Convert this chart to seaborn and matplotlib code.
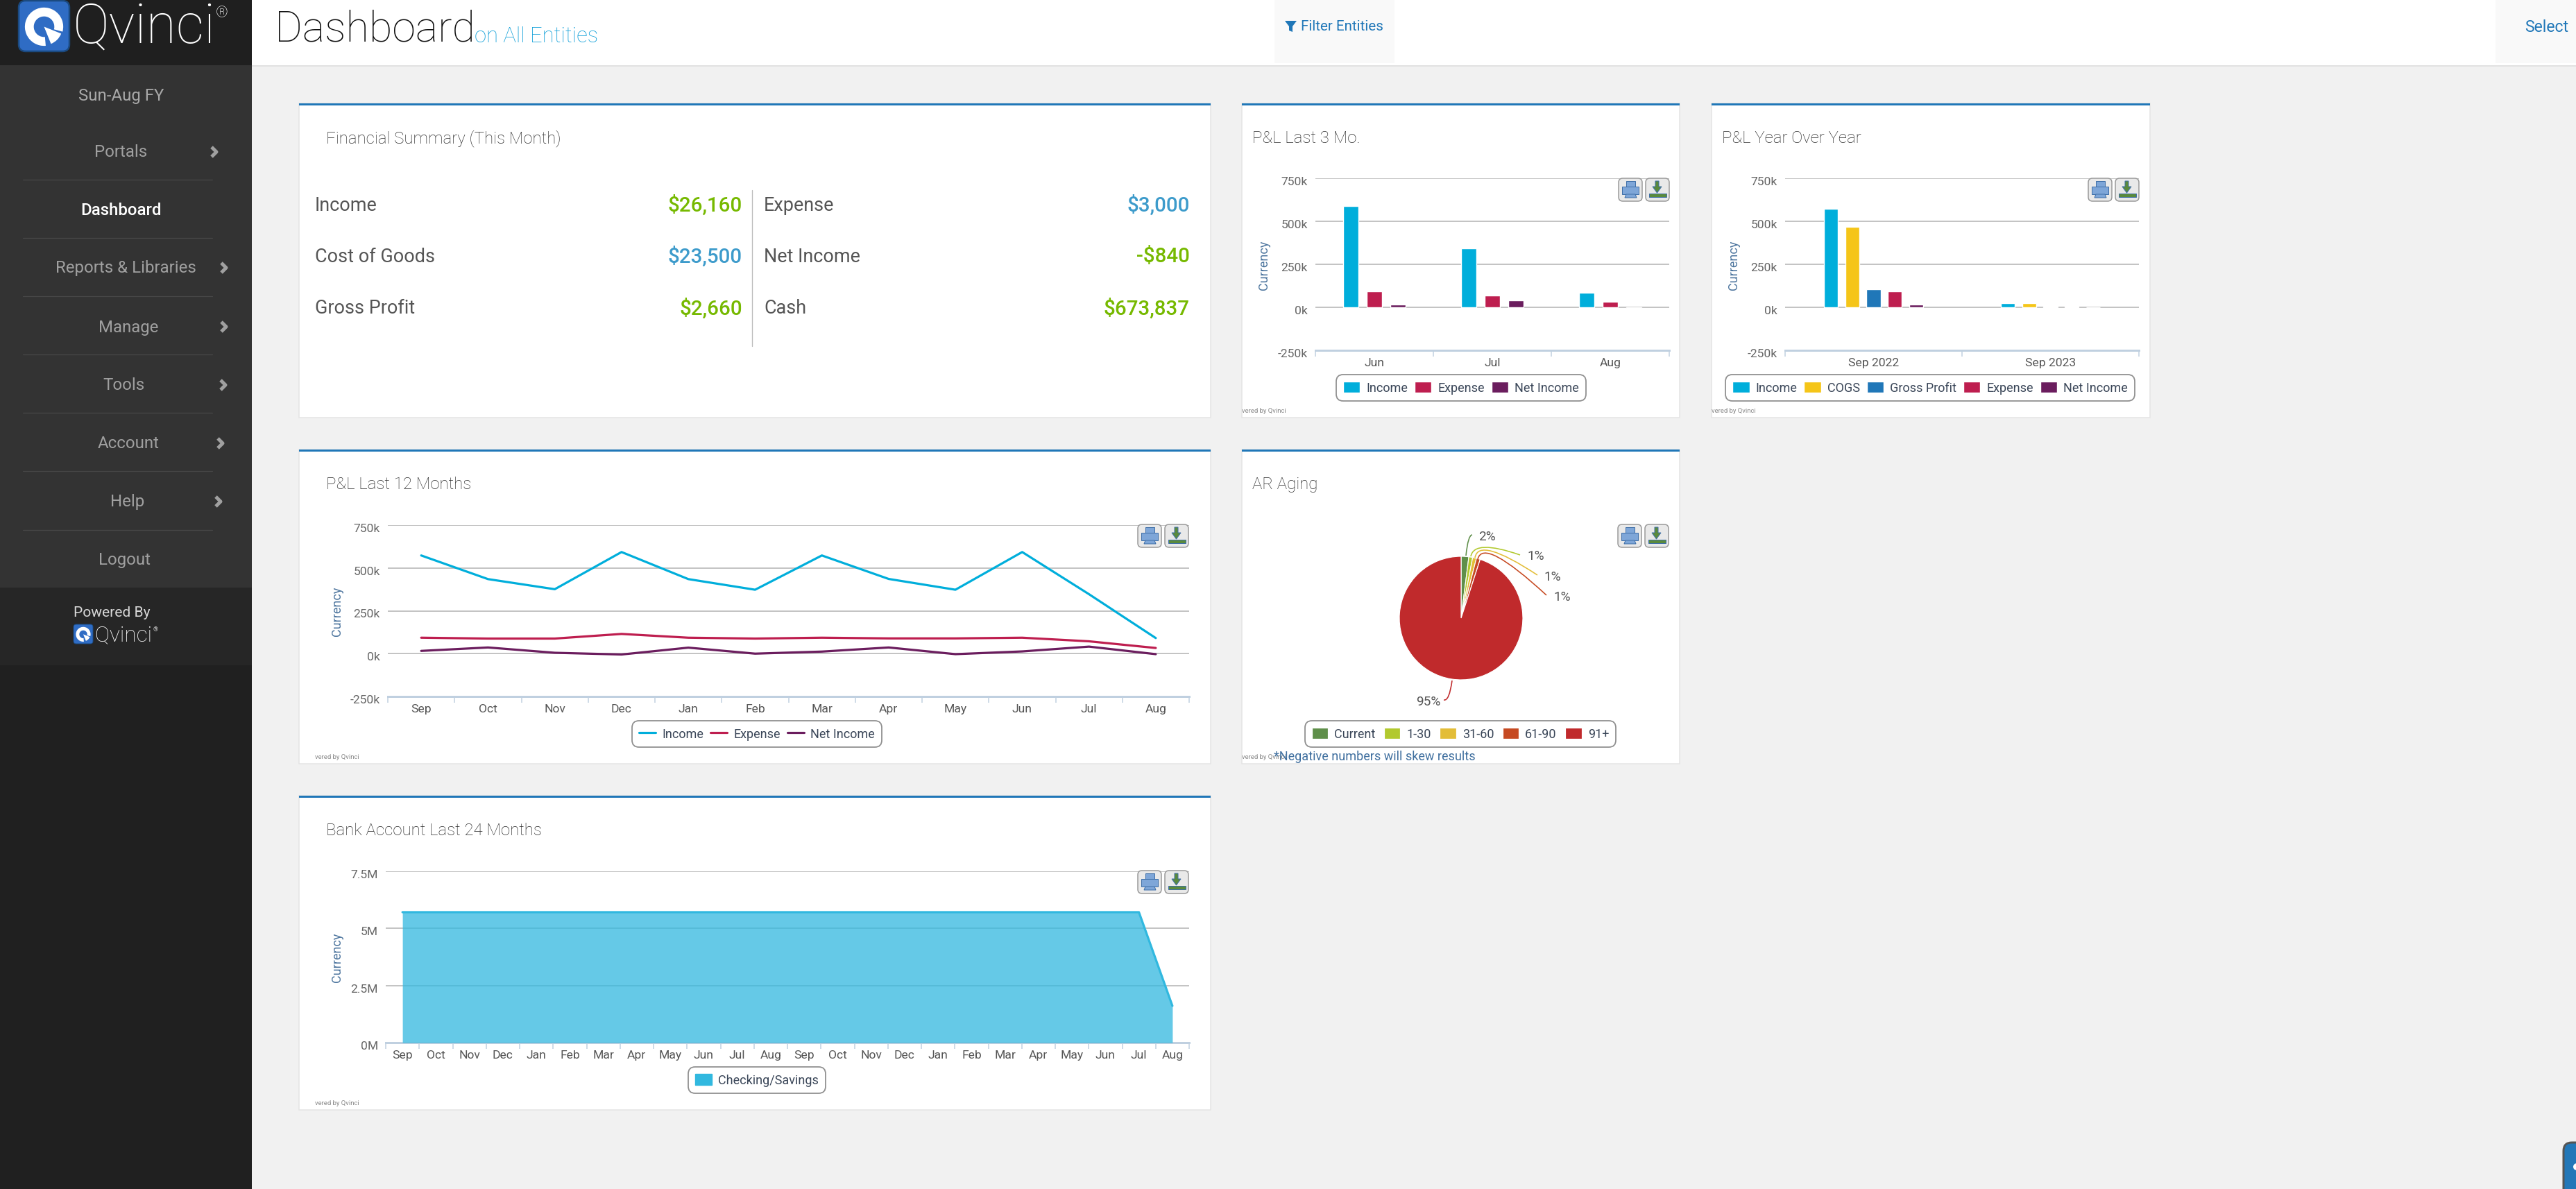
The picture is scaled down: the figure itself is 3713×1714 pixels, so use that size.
import matplotlib
matplotlib.use('Agg')
import matplotlib.pyplot as plt
from matplotlib.patches import Rectangle, FancyBboxPatch, Polygon, Wedge, Circle, PathPatch, Patch
from matplotlib.path import Path
from matplotlib.transforms import ScaledTranslation
import numpy as np
import pandas as pd
import seaborn as sns

W, H = 3713, 1715

# chart data
MONTHS_3 = ['Jun', 'Jul', 'Aug']
INCOME_3 = [590000, 343000, 85000]
EXPENSE_3 = [91000, 67000, 31000]
NET_3 = [15000, 39000, -5000]

YEARS = ['Sep 2022', 'Sep 2023']
INCOME_YOY = [571000, 26160]
COGS_YOY = [469000, 23500]
GROSS_YOY = [103000, 2660]
EXPENSE_YOY = [91000, 6000]
NET_YOY = [15000, -840]

MONTHS_12 = ['Sep', 'Oct', 'Nov', 'Dec', 'Jan', 'Feb', 'Mar', 'Apr', 'May', 'Jun', 'Jul', 'Aug']
INCOME_12 = [573000, 435000, 376000, 593000, 435000, 373000, 573000, 436000, 373000, 593000, 347000, 91000]
EXPENSE_12 = [93000, 88000, 88000, 115000, 93000, 88000, 93000, 89000, 89000, 93000, 72000, 33000]
NET_12 = [16000, 36000, 5000, -5000, 35000, 0, 12000, 36000, -3000, 13000, 41000, -3000]

AGING_LABELS = ['Current', '1-30', '31-60', '61-90', '91+']
AGING_VALUES = [2, 1, 1, 1, 95]

MONTHS_24 = MONTHS_12 + MONTHS_12
BANK_24 = [5710000, 5710000, 5710000, 5710000, 5710000, 5710000, 5710000, 5710000,
           5710000, 5710000, 5710000, 5710000, 5710000, 5710000, 5710000, 5710000,
           5710000, 5710000, 5710000, 5710000, 5710000, 5710000, 5710000, 1610000]

SUMMARY_LEFT = [('Income', '$26,160', 'g'), ('Cost of Goods', '$23,500', 'b'), ('Gross Profit', '$2,660', 'g')]
SUMMARY_RIGHT = [('Expense', '$3,000', 'b'), ('Net Income', '-$840', 'g'), ('Cash', '$673,837', 'g')]

PL_TICKS = [-250000, 0, 250000, 500000, 750000]
PL_TICK_LABELS = ['-250k', '0k', '250k', '500k', '750k']
BANK_TICKS = [0, 2500000, 5000000, 7500000]
BANK_TICK_LABELS = ['0M', '2.5M', '5M', '7.5M']

NAV_ITEMS = ['Portals', 'Dashboard', 'Reports & Libraries', 'Manage', 'Tools', 'Account', 'Help', 'Logout']

COLORS = {'Income': '#00aedb', 'COGS': '#f5c518', 'Gross Profit': '#2077b8',
          'Expense': '#be1e4f', 'Net Income': '#6b1d5e'}
AGING_COLORS = ['#5f8f4a', '#b2c92e', '#e3bd37', '#c64a22', '#c02a2c']

sns.set_theme(style='white')
plt.rcParams['font.family'] = ['Roboto', 'DejaVu Sans']


def fs(px):
    return px * 0.72


def lw(px):
    return px * 0.72


fig = plt.figure(figsize=(W / 100, H / 100), dpi=100, facecolor='#f1f1f1')


def px_axes(x0, y0, x1, y1, z=1):
    ax = fig.add_axes([x0 / W, 1 - y1 / H, (x1 - x0) / W, (y1 - y0) / H], zorder=z)
    ax.patch.set_alpha(0)
    return ax


# page layer and top layer, both in pixel coordinates
page = px_axes(0, 0, W, H, z=0)
top = px_axes(0, 0, W, H, z=5)
for a in (page, top):
    a.set_xlim(0, W)
    a.set_ylim(H, 0)
    a.axis('off')


def rect(a, x0, y0, x1, y1, color, **kw):
    a.add_patch(Rectangle((x0, y0), x1 - x0, y1 - y0, facecolor=color, edgecolor='none', **kw))


def logo(x0, y0, size):
    k = size / 74
    page.add_patch(FancyBboxPatch((x0, y0), size, size, boxstyle=f'round,pad=0,rounding_size={10 * k}',
                                  facecolor='#2f6cc4', edgecolor='#1b4a80', linewidth=lw(2.5 * k)))
    cx, cy = x0 + 37 * k, y0 + 38 * k
    page.add_patch(Wedge((cx, cy), 28 * k, 85, 375, width=13 * k, facecolor='white', edgecolor='none'))
    page.add_patch(Wedge((cx, cy), 27 * k, 22, 68, facecolor='white', edgecolor='none'))


# sidebar
rect(page, 0, 0, 363, H, '#202020')
rect(page, 0, 0, 363, 95, '#1f1f1f')
rect(page, 0, 95, 363, 848, '#333333')
rect(page, 0, 848, 363, 960, '#262626')
logo(27, 2, 73)
page.text(105, 40, 'Qvinci', color='white', fontsize=fs(79), fontweight='light', va='center', ha='left')
page.text(320, 20, '®', color='white', fontsize=fs(22), fontweight='light', va='center', ha='center')

page.text(175, 138, 'Sun-Aug FY', color='#a8a8a8', fontsize=fs(24), ha='center', va='center')
nav_x = [174, 175, 181, 185, 178, 185, 184, 180]
nav_y = [220, 303, 387, 472, 556, 640, 724, 808]
chevron_x = [309, None, 323, 323, 322, 318, 315, None]
for name, x, y, cx in zip(NAV_ITEMS, nav_x, nav_y, chevron_x):
    page.text(x, y, name, color='white' if name == 'Dashboard' else '#a0a0a0', fontsize=fs(24),
              ha='center', va='center', fontweight='medium' if name == 'Dashboard' else 'normal')
    if cx:
        page.plot([cx - 4, cx + 3, cx - 4], [y - 7, y, y + 7], color='#a0a0a0', lw=lw(5), solid_capstyle='butt')
for y in [260, 344, 428, 512, 596, 680, 765]:
    page.plot([33, 306], [y, y], color='#484848', lw=lw(1.2))

page.text(161, 884, 'Powered By', color='#d8d8d8', fontsize=fs(21), ha='center', va='center')
logo(106, 901, 28)
page.text(137, 916, 'Qvinci', color='white', fontsize=fs(31.5), fontweight='light', ha='left', va='center')
page.text(224, 908, '®', color='#cccccc', fontsize=fs(9), ha='center', va='center')

# header
rect(page, 363, 0, W, 95, 'white')
rect(page, 363, 95, W, 97, '#e2e2e2')
page.text(396, 59, 'Dashboard', color='#111111', fontsize=fs(61), fontweight='light', va='baseline')
page.text(684, 61, 'on All Entities', color='#0e9fd8', fontsize=fs(31), fontweight='light', va='baseline')
rect(page, 1837, 0, 2010, 92, '#f9f9f9')
page.add_patch(Polygon([[1852, 31], [1869, 31], [1863, 39], [1863, 47], [1858, 45], [1858, 39]],
                       facecolor='#2077b8', edgecolor='none'))
page.text(1875, 39, 'Filter Entities', color='#2077b8', fontsize=fs(20.5), va='center')
rect(page, 3597, 0, W, 92, '#f9f9f9')
page.text(3639, 39, 'Select', color='#2077b8', fontsize=fs(23), va='center', clip_on=True)

# chat widget in the corner
page.add_patch(FancyBboxPatch((3695, 1648), 40, 80, boxstyle='round,pad=0,rounding_size=12',
                              facecolor='#2277b8', edgecolor='#555555', linewidth=lw(3)))
page.add_patch(Circle((3714, 1683), 5, facecolor='white', edgecolor='none'))


def card(x0, y0, x1, y1, title):
    page.add_patch(Rectangle((x0, y0), x1 - x0, y1 - y0, facecolor='white', edgecolor='#e4e4e4', linewidth=lw(1.5)))
    rect(page, x0, y0, x1, y0 + 3, '#2077b8')
    page.text(x0 + 39 if x1 - x0 > 1000 else x0 + 15, y0 + 50, title, color='#2a2a2a', fontsize=fs(24),
              fontweight='light', va='center')


def buttons(x, y):
    for bx, edge in ((x, '#999999'), (x + 39, '#999999')):
        top.add_patch(FancyBboxPatch((bx, y), 34, 33, boxstyle='round,pad=0,rounding_size=6',
                                     facecolor='#e9e9e9', edgecolor=edge, linewidth=lw(1.5)))
    blue, dark = '#7ea6d8', '#3f6fa8'
    top.add_patch(Rectangle((x + 11, y + 4), 13, 8, facecolor=blue, edgecolor=dark, linewidth=lw(1)))
    top.add_patch(Rectangle((x + 5, y + 12), 24, 11, facecolor=blue, edgecolor=dark, linewidth=lw(1)))
    top.add_patch(Polygon([[x + 11, y + 23], [x + 24, y + 23], [x + 26, y + 28], [x + 9, y + 28]],
                          facecolor=blue, edgecolor=dark, linewidth=lw(1)))
    d = x + 39
    top.add_patch(Polygon([[d + 14, y + 4], [d + 19, y + 4], [d + 19, y + 12], [d + 23, y + 12], [d + 16.5, y + 21],
                           [d + 10, y + 12], [d + 14, y + 12]], facecolor='#5a8a3c', edgecolor=dark, linewidth=lw(1)))
    top.add_patch(Rectangle((d + 5, y + 22), 25, 5, facecolor='#5a8a3c', edgecolor=dark, linewidth=lw(1)))


def credit(x, y):
    page.text(x, y, 'vered by Qvinci', color='#888888', fontsize=fs(9.5), va='center')


def style_axes(ax, labels, ticks, tick_labels, ylab_x):
    n = len(labels)
    ax.set_xlim(-0.5, n - 0.5)
    ax.set_ylim(ticks[0], ticks[-1])
    ax.set_xticks(np.arange(n + 1) - 0.5, labels=[''] * (n + 1))
    ax.set_xticks(np.arange(n), labels=labels, minor=True)
    ax.set_yticks(ticks, labels=tick_labels)
    ax.tick_params(axis='x', which='major', length=6.5, width=lw(1.5), color='#c0d0e0', bottom=True)
    ax.tick_params(axis='x', which='minor', length=0, pad=7, labelsize=fs(17.5), labelcolor='#555555')
    ax.tick_params(axis='y', length=0, pad=8, labelsize=fs(17.5), labelcolor='#666666')
    ax.grid(False)
    ax.grid(axis='y', color='#c4c4c4', lw=lw(2))
    ax.set_axisbelow(True)
    sns.despine(ax=ax, left=True, top=True, right=True)
    ax.spines['bottom'].set_color('#c0d0e0')
    ax.spines['bottom'].set_linewidth(lw(3))
    ax.set_xlabel('')
    ax.set_ylabel('Currency', color='#4d759e', fontsize=fs(18))
    ax.yaxis.set_label_coords(ylab_x, 0.5)
    for lab in ax.get_yticklabels():
        lab.set_transform(lab.get_transform() + ScaledTranslation(0, -0.03, fig.dpi_scale_trans))


def round_frame(ax):
    frame = ax.get_legend().get_frame()
    frame.set_linewidth(lw(1.8))
    frame.set_boxstyle('round', pad=0, rounding_size=0.55)
    ax.get_legend().set_zorder(10)


def place_legend(ax, cx, cy, ncol, **kw):
    opts = dict(loc='center', bbox_to_anchor=(cx / W, 1 - cy / H), bbox_transform=fig.transFigure, ncol=ncol,
                frameon=True, title=None, fontsize=fs(18), labelcolor='#3a4658', facecolor='white',
                edgecolor='#909090', framealpha=1, handlelength=1.35, handleheight=1.0, handletextpad=0.5,
                columnspacing=0.55, borderpad=0.55)
    opts.update(kw)
    sns.move_legend(ax, **opts)
    round_frame(ax)


# Financial summary
card(431, 150, 1745, 603, 'Financial Summary (This Month)')
value_colors = {'g': '#76b900', 'b': '#3d9bcb'}
for (left, right, y) in zip(SUMMARY_LEFT, SUMMARY_RIGHT, [296, 370, 445]):
    page.text(454, y, left[0], color='#555555', fontsize=fs(27), va='center')
    page.text(1070, y, left[1], color=value_colors[left[2]], fontsize=fs(29.5), fontweight='medium', va='center', ha='right')
    page.text(1101, y, right[0], color='#555555', fontsize=fs(27), va='center')
    page.text(1715, y, right[1], color=value_colors[right[2]], fontsize=fs(29.5), fontweight='medium', va='center', ha='right')
page.plot([1084, 1084], [275, 500], color='#bbbbbb', lw=lw(1.3))

# P&L last 3 months
card(1790, 150, 2421, 603, 'P&L Last 3 Mo.')
ax = px_axes(1896, 258, 2406, 506)
df = pd.DataFrame({'month': MONTHS_3 * 3,
                   'series': ['Income'] * 3 + ['Expense'] * 3 + ['Net Income'] * 3,
                   'value': INCOME_3 + EXPENSE_3 + NET_3})
sns.barplot(data=df, x='month', y='value', hue='series', palette=COLORS, width=0.6, gap=0.38, saturation=1, ax=ax)
style_axes(ax, MONTHS_3, PL_TICKS, PL_TICK_LABELS, -65 / 510)
place_legend(ax, 2106, 560, 3)
buttons(2333, 258)
credit(1790, 593)

# P&L year over year
card(2467, 150, 3099, 603, 'P&L Year Over Year')
ax = px_axes(2573, 258, 3083, 506)
df = pd.DataFrame({'year': YEARS * 5,
                   'series': ['Income'] * 2 + ['COGS'] * 2 + ['Gross Profit'] * 2 + ['Expense'] * 2 + ['Net Income'] * 2,
                   'value': INCOME_YOY + COGS_YOY + GROSS_YOY + EXPENSE_YOY + NET_YOY})
sns.barplot(data=df, x='year', y='value', hue='series', palette=COLORS, width=0.6, gap=0.34, saturation=1, ax=ax)
style_axes(ax, YEARS, PL_TICKS, PL_TICK_LABELS, -65 / 510)
place_legend(ax, 2782, 560, 5)
buttons(3010, 258)
credit(2467, 593)

# P&L last 12 months
card(431, 649, 1745, 1102, 'P&L Last 12 Months')
ax = px_axes(559, 758, 1714, 1005)
idx = list(range(12))
df = pd.DataFrame({'pos': idx * 3,
                   'series': ['Income'] * 12 + ['Expense'] * 12 + ['Net Income'] * 12,
                   'value': INCOME_12 + EXPENSE_12 + NET_12})
sns.lineplot(data=df, x='pos', y='value', hue='series', palette=COLORS, linewidth=lw(3.2), ax=ax)
style_axes(ax, MONTHS_12, PL_TICKS, PL_TICK_LABELS, -64 / 1155)
place_legend(ax, 1091, 1059, 3)
buttons(1640, 757)
credit(454, 1092)

# AR aging
card(1790, 649, 2421, 1102, 'AR Aging')
ax = px_axes(1996, 782, 2216, 1002)
wedges, _ = ax.pie(AGING_VALUES, colors=AGING_COLORS, startangle=90, counterclock=False, radius=89 / 110,
                   wedgeprops={'edgecolor': 'white', 'linewidth': lw(1.2)})
ax.set_xlim(-1, 1)
ax.set_ylim(-1, 1)
ax.legend(wedges, AGING_LABELS, loc='center', bbox_to_anchor=(2105 / W, 1 - 1059 / H), bbox_transform=fig.transFigure,
          ncol=5, frameon=True, fontsize=fs(18), labelcolor='#3a4658', facecolor='white', edgecolor='#909090',
          framealpha=1, handlelength=1.3, handleheight=1.0, handletextpad=0.5, columnspacing=0.7, borderpad=0.55)
round_frame(ax)

leaders = [
    [(2113, 802), (2116, 772), (2122, 772)],
    [(2120, 803), (2125, 778), (2191, 801)],
    [(2126, 805), (2131, 774), (2216, 830)],
    [(2130, 807), (2138, 775), (2229, 859)],
    [(2093, 982), (2089, 1012), (2081, 1010)],
]
label_xy = [(2143, 774), (2214, 802), (2238, 832), (2252, 861), (2059, 1012)]
for pts, c, val, (lx, ly) in zip(leaders, AGING_COLORS, AGING_VALUES, label_xy):
    top.add_patch(PathPatch(Path(pts, [Path.MOVETO, Path.CURVE3, Path.CURVE3]), facecolor='none', edgecolor=c, linewidth=lw(1.6)))
    top.text(lx, ly, f'{val}%', color='#555555', fontsize=fs(19), ha='center', va='center')
buttons(2332, 757)
credit(1790, 1092)
top.text(1836, 1091, '*Negative numbers will skew results', color='#3f6f9f', fontsize=fs(18), va='center')

# Bank account
card(431, 1148, 1745, 1601, 'Bank Account Last 24 Months')
ax = px_axes(556, 1257, 1714, 1504)
bank = pd.DataFrame({'pos': range(24), 'value': BANK_24, 'series': 'Checking/Savings'})
sns.lineplot(data=bank, x='pos', y='value', hue='series', palette=['#31b8df'], linewidth=lw(3.2), ax=ax)
ax.fill_between(bank['pos'], bank['value'], color='#31b8df', alpha=0.75, linewidth=0, zorder=3)
style_axes(ax, MONTHS_24, BANK_TICKS, BANK_TICK_LABELS, -61 / 1158)
ax.legend(handles=[Patch(color='#31b8df', label='Checking/Savings')])
place_legend(ax, 1091, 1558, 1)
buttons(1640, 1256)
credit(454, 1591)

fig.savefig('out.png', dpi=100, facecolor=fig.get_facecolor())
